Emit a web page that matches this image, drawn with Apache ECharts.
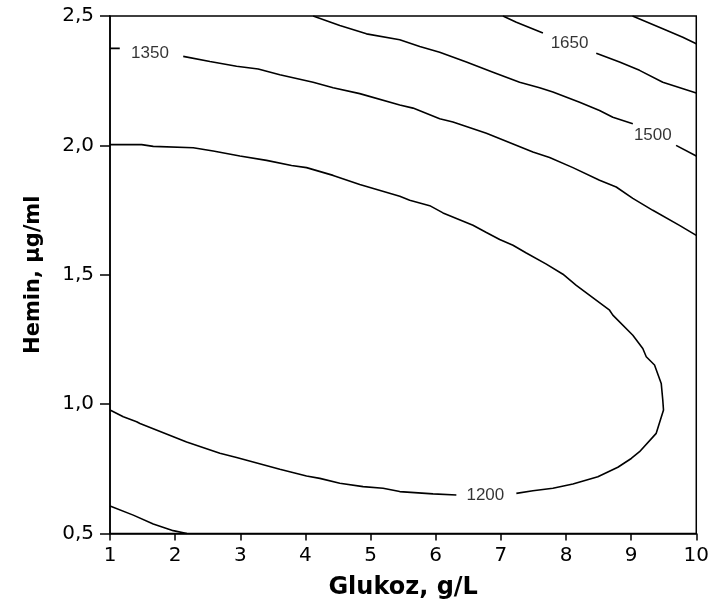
<!DOCTYPE html>
<html>
<head>
<meta charset="utf-8">
<script src="https://cdn.jsdelivr.net/npm/echarts@6/dist/echarts.min.js"></script>
<style>html,body{margin:0;padding:0;background:#fff}#c{width:712px;height:612px}</style>
</head>
<body>
<div id="c"></div>
<script>
// Axis ticks
const xTicks = [1, 2, 3, 4, 5, 6, 7, 8, 9, 10];
const yTickLabels = ['0,5', '1,0', '1,5', '2,0', '2,5'];
const yTickValues = [0.5, 1.0, 1.5, 2.0, 2.5];

// Contour 1200 (ellipse), split at label
const c1200a = [
  [1, 2.003], [1.486, 2.003], [1.664, 1.996], [2.278, 1.991], [2.584, 1.978], [2.994, 1.959],
  [3.403, 1.942], [3.787, 1.922], [4.017, 1.914], [4.425, 1.884], [4.834, 1.849], [5.448, 1.803],
  [5.601, 1.788], [5.908, 1.767], [6.112, 1.739], [6.572, 1.691], [6.778, 1.663], [6.982, 1.636],
  [7.186, 1.614], [7.391, 1.584], [7.698, 1.541], [7.953, 1.502], [8.158, 1.459], [8.669, 1.363],
  [8.719, 1.344], [9.026, 1.266], [9.179, 1.215], [9.232, 1.183], [9.359, 1.151], [9.462, 1.080],
  [9.486, 1.015], [9.497, 0.977], [9.385, 0.887], [9.129, 0.816], [9.002, 0.790], [8.796, 0.756],
  [8.489, 0.719], [8.106, 0.691], [7.799, 0.675], [7.492, 0.665], [7.238, 0.655]
];
const c1200b = [
  [6.317, 0.649], [5.959, 0.653], [5.448, 0.662], [5.192, 0.675], [4.885, 0.681], [4.528, 0.694],
  [4.221, 0.713], [4.017, 0.722], [3.607, 0.748], [2.943, 0.794], [2.687, 0.810], [2.176, 0.854],
  [1.460, 0.925], [1.409, 0.932], [1.204, 0.951], [1, 0.977]
];
// Contour 1350 (upper, split at label) and lower-left corner
const c1350a = [[1, 2.375], [1.15, 2.375]];
const c1350b = [
  [2.124, 2.344], [2.534, 2.324], [2.943, 2.306], [3.275, 2.295], [3.607, 2.273], [4.118, 2.244],
  [4.425, 2.223], [4.834, 2.200], [5.448, 2.156], [5.652, 2.144], [6.061, 2.103], [6.265, 2.090],
  [6.778, 2.047], [7.492, 1.974], [7.748, 1.953], [8.106, 1.914], [8.515, 1.865], [8.771, 1.839],
  [9.026, 1.795], [9.333, 1.749], [9.742, 1.691], [10, 1.652]
];
const c1350c = [[1, 0.606], [1.357, 0.571], [1.664, 0.537], [1.971, 0.511], [2.18, 0.5]];
// Contour 1500 (split at label)
const c1500a = [
  [4.118, 2.5], [4.528, 2.463], [4.937, 2.431], [5.448, 2.408], [5.755, 2.382], [6.061, 2.360],
  [6.471, 2.322], [6.879, 2.283], [7.288, 2.244], [7.595, 2.223], [7.799, 2.206], [8.209, 2.167],
  [8.515, 2.135], [8.719, 2.109], [9.026, 2.084]
];
const c1500b = [[9.690, 2.000], [10, 1.959]];
// Contour 1650 (split at label)
const c1650a = [[7.032, 2.5], [7.238, 2.476], [7.646, 2.434]];
const c1650b = [[8.465, 2.356], [8.822, 2.322], [9.129, 2.290], [9.486, 2.244], [10, 2.202]];
// Contour 1800 (unlabelled, top right)
const c1800 = [[9.021, 2.5], [9.486, 2.451], [9.793, 2.418], [10, 2.393]];

// Contour labels
const labelText = ['1350', '1650', '1500', '1200'];
const labelX = [1.613, 8.055, 9.333, 6.762];
const labelY = [2.356, 2.395, 2.039, 0.649];

const segments = [c1200a, c1200b, c1350a, c1350b, c1350c, c1500a, c1500b, c1650a, c1650b, c1800];

const lineSeries = segments.map(seg => ({
  type: 'line',
  data: seg,
  showSymbol: false,
  symbol: 'none',
  smooth: false,
  silent: true,
  lineStyle: { color: '#000', width: 1.6 },
  z: 2
}));

const labelSeries = {
  type: 'scatter',
  symbolSize: 0,
  silent: true,
  data: labelText.map((t, i) => ({ value: [labelX[i], labelY[i]], name: t })),
  label: {
    show: true,
    position: 'inside',
    formatter: p => p.name,
    color: '#000',
    fontFamily: 'Liberation Sans',
    fontSize: 17
  },
  z: 3
};

const chart = echarts.init(document.getElementById('c'), null, { renderer: 'canvas' });
chart.setOption({
  animation: false,
  backgroundColor: '#fff',
  grid: {
    left: 110, right: 15, top: 16, bottom: 78.5,
    show: true, borderColor: '#000', borderWidth: 1.5, backgroundColor: 'transparent'
  },
  xAxis: {
    type: 'value',
    min: 1, max: 10, interval: 1,
    name: 'Glukoz, g/L',
    nameLocation: 'middle',
    nameGap: 42,
    nameTextStyle: { fontFamily: 'DejaVu Sans', fontWeight: 'bold', fontSize: 24, color: '#000' },
    axisLine: { show: true, onZero: false, lineStyle: { color: '#000', width: 1.5 } },
    axisTick: { show: true, inside: false, length: 7, lineStyle: { color: '#000', width: 1.5 } },
    axisLabel: {
      margin: 12, fontFamily: 'DejaVu Sans', fontSize: 20, color: '#000',
      formatter: v => { const i = xTicks.indexOf(Math.round(v)); return i >= 0 ? String(xTicks[i]) : ''; }
    },
    splitLine: { show: false }
  },
  yAxis: {
    type: 'value',
    min: 0.5, max: 2.5, interval: 0.5,
    name: 'Hemin, µg/ml',
    nameLocation: 'middle',
    nameGap: 66,
    nameTextStyle: { fontFamily: 'DejaVu Sans', fontWeight: 'bold', fontSize: 21, color: '#000' },
    axisLine: { show: true, onZero: false, lineStyle: { color: '#000', width: 1.5 } },
    axisTick: { show: true, inside: false, length: 10, lineStyle: { color: '#000', width: 1.5 } },
    axisLabel: {
      margin: 16, fontFamily: 'DejaVu Sans', fontSize: 20, color: '#000',
      formatter: v => {
        const i = yTickValues.findIndex(t => Math.abs(t - v) < 1e-6);
        return i >= 0 ? yTickLabels[i] : '';
      }
    },
    splitLine: { show: false }
  },
  series: lineSeries.concat([labelSeries])
});
</script>
</body>
</html>
